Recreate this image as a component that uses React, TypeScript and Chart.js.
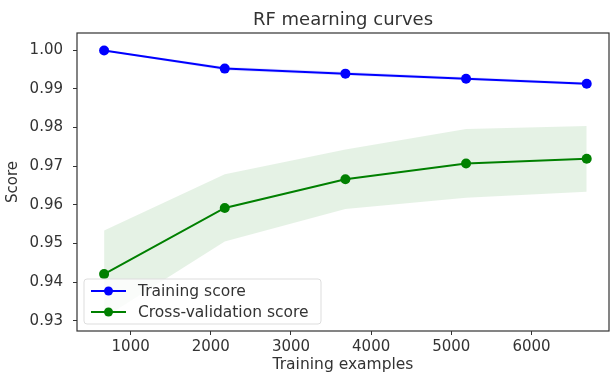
import React, { useEffect, useRef } from "react";
import { Chart, registerables } from "chart.js";

Chart.register(...registerables);

const trainSizes = [669, 2174, 3679, 5184, 6689];
const trainMean = [0.9999, 0.9952, 0.9939, 0.9926, 0.9913];
const trainStd = [0.0002, 0.0005, 0.0005, 0.0004, 0.0004];
const cvMean = [0.9421, 0.9592, 0.9666, 0.9707, 0.9719];
const cvStd = [0.0113, 0.0087, 0.0077, 0.0089, 0.0085];
const xTicks = [1000, 2000, 3000, 4000, 5000, 6000];
const yTicks = [0.93, 0.94, 0.95, 0.96, 0.97, 0.98, 0.99, 1.0];
const titleText = "RF mearning curves";
const xLabel = "Training examples";
const yLabel = "Score";
const seriesLabels = ["Training score", "Cross-validation score"];

const FONT = "'DejaVu Sans', sans-serif";
const TEXT = "#333333";
const BLUE = "#0000ff";
const GREEN = "#008000";

const pts = (ys: number[]) => trainSizes.map((x, i) => ({ x, y: ys[i] }));

const framePlugin = {
  id: "frame",
  afterDraw(chart: any) {
    const { ctx, chartArea: a } = chart;
    ctx.save();
    ctx.strokeStyle = "#333333";
    ctx.lineWidth = 1.2;
    ctx.strokeRect(a.left, a.top, a.right - a.left, a.bottom - a.top);
    // title centred over the plot area
    ctx.fillStyle = TEXT;
    ctx.font = `18px ${FONT}`;
    ctx.textAlign = "center";
    ctx.textBaseline = "alphabetic";
    ctx.fillText(titleText, (a.left + a.right) / 2, a.top - 8);
    ctx.restore();
  },
};

const legendPlugin = {
  id: "mplLegend",
  afterDraw(chart: any) {
    const { ctx } = chart;
    const a = chart.chartArea;
    const x0 = a.left + 7;
    const y0 = a.bottom - 52;
    const w = 237;
    const h = 45;
    ctx.save();
    ctx.fillStyle = "rgba(255,255,255,0.8)";
    ctx.strokeStyle = "#dddddd";
    ctx.lineWidth = 1;
    ctx.beginPath();
    (ctx as any).roundRect(x0, y0, w, h, 3);
    ctx.fill();
    ctx.stroke();
    const colors = [BLUE, GREEN];
    ctx.font = `15.5px ${FONT}`;
    ctx.textBaseline = "middle";
    seriesLabels.forEach((lab, i) => {
      const yy = y0 + 12 + i * 21;
      ctx.strokeStyle = colors[i];
      ctx.lineWidth = 2;
      ctx.beginPath();
      ctx.moveTo(x0 + 7, yy);
      ctx.lineTo(x0 + 42, yy);
      ctx.stroke();
      ctx.fillStyle = colors[i];
      ctx.beginPath();
      ctx.arc(x0 + 24.5, yy, 4.5, 0, Math.PI * 2);
      ctx.fill();
      ctx.fillStyle = TEXT;
      ctx.fillText(lab, x0 + 54, yy + 1);
    });
    ctx.restore();
  },
};

export default function App() {
  const ref = useRef<HTMLCanvasElement>(null);
  useEffect(() => {
    document.body.style.margin = "0";
    const tUp = trainMean.map((m, i) => m + trainStd[i]);
    const tLo = trainMean.map((m, i) => m - trainStd[i]);
    const cUp = cvMean.map((m, i) => m + cvStd[i]);
    const cLo = cvMean.map((m, i) => m - cvStd[i]);
    const chart = new Chart(ref.current!, {
      type: "line",
      data: {
        datasets: [
          { data: pts(tUp), borderWidth: 0, pointRadius: 0, fill: false, backgroundColor: "rgba(0,0,255,0.1)" },
          { data: pts(tLo), borderWidth: 0, pointRadius: 0, fill: "-1", backgroundColor: "rgba(0,0,255,0.1)" },
          { data: pts(cUp), borderWidth: 0, pointRadius: 0, fill: false, backgroundColor: "rgba(0,128,0,0.1)" },
          { data: pts(cLo), borderWidth: 0, pointRadius: 0, fill: "-1", backgroundColor: "rgba(0,128,0,0.1)" },
          {
            label: seriesLabels[0],
            data: pts(trainMean),
            borderColor: BLUE,
            backgroundColor: BLUE,
            borderWidth: 2,
            pointRadius: 5,
            pointBorderWidth: 0,
            fill: false,
          },
          {
            label: seriesLabels[1],
            data: pts(cvMean),
            borderColor: GREEN,
            backgroundColor: GREEN,
            borderWidth: 2,
            pointRadius: 5,
            pointBorderWidth: 0,
            fill: false,
          },
        ],
      },
      options: {
        animation: false,
        responsive: true,
        maintainAspectRatio: false,
        layout: { padding: { right: 1, left: 0, top: 33, bottom: 0 } },
        plugins: {
          legend: { display: false },
          tooltip: { enabled: false },
          title: { display: false },
        },
        scales: {
          x: {
            type: "linear",
            min: 331,
            max: 6967,
            border: { display: false },
            grid: { drawOnChartArea: false, drawTicks: true, tickLength: 4, color: "#333333" },
            afterBuildTicks: (s: any) => {
              s.ticks = xTicks.map((v) => ({ value: v }));
            },
            afterFit: (s: any) => {
              s.height = 43;
            },
            ticks: {
              color: TEXT,
              padding: 3,
              maxRotation: 0,
              font: { family: FONT, size: 15 },
              callback: (v: any) => String(v),
            },
            title: {
              display: true,
              text: xLabel,
              color: TEXT,
              font: { family: FONT, size: 15.5 },
              padding: { top: 0, bottom: 0 },
            },
          },
          y: {
            type: "linear",
            min: 0.9274,
            max: 1.0044,
            border: { display: false },
            grid: { drawOnChartArea: false, drawTicks: true, tickLength: 4, color: "#333333" },
            afterBuildTicks: (s: any) => {
              s.ticks = yTicks.map((v) => ({ value: v }));
            },
            afterFit: (s: any) => {
              s.width = 77;
            },
            ticks: {
              color: TEXT,
              padding: 10,
              font: { family: FONT, size: 15 },
              callback: (v: any) => Number(v).toFixed(2),
            },
            title: {
              display: true,
              text: yLabel,
              color: TEXT,
              font: { family: FONT, size: 15 },
              padding: { top: 4, bottom: 0 },
            },
          },
        },
      },
      plugins: [framePlugin, legendPlugin],
    });
    return () => chart.destroy();
  }, []);
  return (
    <div style={{ width: 614, height: 374, position: "relative" }}>
      <canvas ref={ref} />
    </div>
  );
}
